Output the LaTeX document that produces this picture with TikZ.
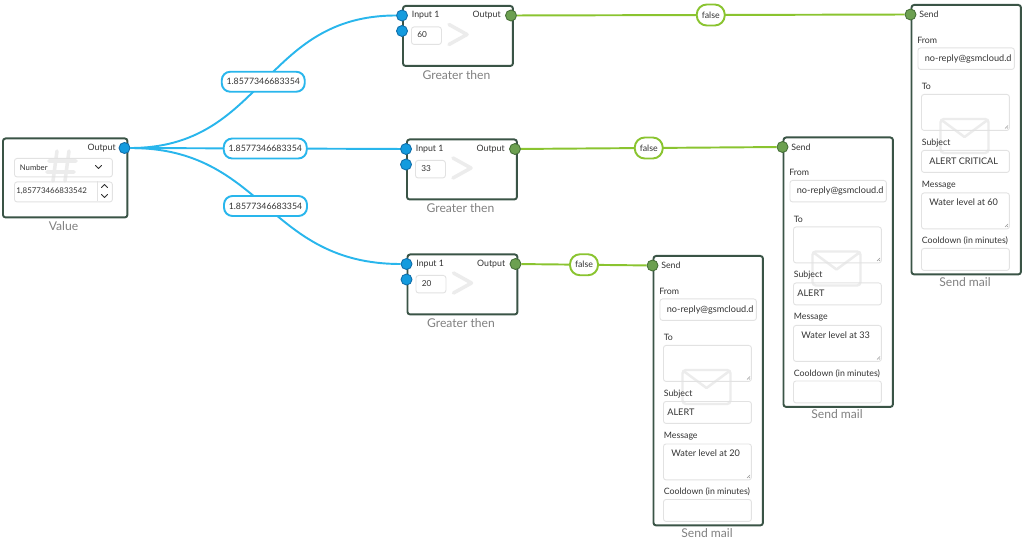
\documentclass[tikz,border=0pt]{standalone}
\usepackage{fontspec}
\setmainfont{Lato}
\setsansfont{Lato}

\begin{document}
\begin{tikzpicture}[x=0.02cm,y=-0.02cm,font=\sffamily]

\definecolor{panel_draw}{RGB}{58,84,70}
\definecolor{field_draw}{RGB}{226,226,226}
\definecolor{icon_draw}{RGB}{236,236,236}
\definecolor{caption_text}{RGB}{128,128,128}
\definecolor{label_text}{RGB}{51,51,51}
\definecolor{handle_draw}{RGB}{150,150,150}
\definecolor{value_edge_draw}{RGB}{41,182,236}
\definecolor{value_port_fill}{RGB}{20,155,222}
\definecolor{value_port_draw}{RGB}{16,110,170}
\definecolor{bool_edge_draw}{RGB}{138,196,48}
\definecolor{bool_port_fill}{RGB}{108,160,80}
\definecolor{bool_port_draw}{RGB}{70,112,56}

\tikzstyle{panel_style}=[draw=panel_draw,fill=white,line width=1.1pt,rounded corners=1.5pt,anchor=north west,inner sep=0pt]
\tikzstyle{field_style}=[draw=field_draw,line width=0.5pt,rounded corners=1.5pt,anchor=north west,inner sep=0pt]
\tikzstyle{text_style}=[text=label_text,font=\fontsize{5}{6}\selectfont,inner sep=0pt]
\tikzstyle{field_text_style}=[text=label_text,font=\fontsize{5.2}{6}\selectfont,inner sep=0pt,anchor=west]
\tikzstyle{caption_style}=[text=caption_text,font=\fontsize{6.9}{8}\selectfont,inner sep=0pt]
\tikzstyle{icon_style}=[draw=icon_draw,line width=2pt,line cap=round,line join=round]
\tikzstyle{mark_style}=[draw=label_text,line width=0.6pt,line cap=round,line join=round]
\tikzstyle{handle_style}=[draw=handle_draw,line width=0.3pt]
\tikzstyle{value_port_style}=[circle,draw=value_port_draw,fill=value_port_fill,line width=0.5pt,minimum size=0.22cm,inner sep=0pt]
\tikzstyle{bool_port_style}=[circle,draw=bool_port_draw,fill=bool_port_fill,line width=0.5pt,minimum size=0.22cm,inner sep=0pt]
\tikzstyle{value_edge_style}=[draw=value_edge_draw,line width=1.1pt]
\tikzstyle{bool_edge_style}=[draw=bool_edge_draw,line width=1.1pt]
\tikzstyle{value_label_style}=[draw=value_edge_draw,fill=white,line width=1.1pt,rounded corners=0.17cm,minimum width=1.66cm,minimum height=0.4cm,inner sep=0pt,text=label_text,font=\fontsize{5}{6}\selectfont]
\tikzstyle{bool_label_style}=[draw=bool_edge_draw,fill=white,line width=1.1pt,rounded corners=0.2cm,minimum width=0.56cm,minimum height=0.42cm,inner sep=0pt,text=label_text,font=\fontsize{5}{6}\selectfont]

\useasboundingbox (0,0) rectangle (1024,540);

\node(value) at (2,137.5) [panel_style,minimum width=2.49cm,minimum height=1.58cm] {};
\draw[icon_style] (57,151) -- (53,181) (69,151) -- (65,181) (49,161) -- (76,161) (47,172) -- (74,172);
\node(value_type) at (14,158) [field_style,minimum width=1.96cm,minimum height=0.37cm] {};
\node(value_type_text) at (19.5,167.3) [field_text_style,font=\fontsize{4.4}{5}\selectfont] {Number};
\draw[mark_style] (95.5,165.5) -- (98.5,168.5) -- (101.5,165.5);
\node(value_field) at (14,181.5) [field_style,minimum width=1.96cm,minimum height=0.4cm] {};
\draw[draw=field_draw,line width=0.5pt] (97,181.5) -- (97,201.5);
\node(value_field_text) at (16,191) [field_text_style,font=\fontsize{4.5}{5}\selectfont] {1,85773466833542};
\draw[mark_style] (101.5,187.5) -- (104.5,184.5) -- (107.5,187.5);
\draw[mark_style] (101.5,194.5) -- (104.5,197.5) -- (107.5,194.5);
\node(value_out_text) at (116,148) [text_style,anchor=east] {Output};
\node(val_out) at (124.5,148) [value_port_style] {};
\node(value_caption) at (63.5,226.5) [caption_style] {Value};

\node(gt1) at (402,5) [panel_style,minimum width=2.2cm,minimum height=1.2cm] {};
\draw[icon_style] (449,24.5) -- (467,34.5) -- (449,44.5);
\node(gt1_field) at (411,26.5) [field_style,minimum width=0.6cm,minimum height=0.35cm] {};
\node(gt1_field_text) at (417,35) [field_text_style,font=\fontsize{4.7}{6}\selectfont] {60};
\node(gt1_in_text) at (411.5,15.5) [text_style,anchor=west] {Input 1};
\node(gt1_out_text) at (501,15.5) [text_style,anchor=east] {Output};
\node(gt1_in1) at (402,15.5) [value_port_style] {};
\node(gt1_in2) at (402,31) [value_port_style] {};
\node(gt1_out) at (511,15.5) [bool_port_style] {};
\node(gt1_caption) at (456.5,75) [caption_style] {Greater then};

\node(gt2) at (406,138.5) [panel_style,minimum width=2.2cm,minimum height=1.2cm] {};
\draw[icon_style] (453,158) -- (471,168) -- (453,178);
\node(gt2_field) at (415,160) [field_style,minimum width=0.6cm,minimum height=0.35cm] {};
\node(gt2_field_text) at (421,168.5) [field_text_style,font=\fontsize{4.7}{6}\selectfont] {33};
\node(gt2_in_text) at (415.5,149) [text_style,anchor=west] {Input 1};
\node(gt2_out_text) at (505,149) [text_style,anchor=east] {Output};
\node(gt2_in1) at (406,149) [value_port_style] {};
\node(gt2_in2) at (406,164.5) [value_port_style] {};
\node(gt2_out) at (515,149) [bool_port_style] {};
\node(gt2_caption) at (460.5,208.5) [caption_style] {Greater then};

\node(gt3) at (406.5,253.5) [panel_style,minimum width=2.2cm,minimum height=1.2cm] {};
\draw[icon_style] (453.5,273) -- (471.5,283) -- (453.5,293);
\node(gt3_field) at (415.5,275) [field_style,minimum width=0.6cm,minimum height=0.35cm] {};
\node(gt3_field_text) at (421.5,283.5) [field_text_style,font=\fontsize{4.7}{6}\selectfont] {20};
\node(gt3_in_text) at (416,264) [text_style,anchor=west] {Input 1};
\node(gt3_out_text) at (505.5,264) [text_style,anchor=east] {Output};
\node(gt3_in1) at (406.5,264) [value_port_style] {};
\node(gt3_in2) at (406.5,279.5) [value_port_style] {};
\node(gt3_out) at (515.5,264) [bool_port_style] {};
\node(gt3_caption) at (461,323.5) [caption_style] {Greater then};

\node(sm1) at (910.5,4) [panel_style,minimum width=2.19cm,minimum height=5.39cm] {};
\draw[icon_style,line width=1.4pt,rounded corners=2pt] (940.5,119) rectangle (988.5,153);
\draw[icon_style,line width=1.4pt] (941.5,120) -- (964.5,137) -- (987.5,120);
\node(sm1_from_field) at (917.5,47.5) [field_style,minimum width=1.93cm,minimum height=0.43cm] {};
\node(sm1_to_field) at (921,94) [field_style,minimum width=1.76cm,minimum height=0.72cm] {};
\node(sm1_subject_field) at (921,150) [field_style,minimum width=1.76cm,minimum height=0.44cm] {};
\node(sm1_message_field) at (921,192.5) [field_style,minimum width=1.76cm,minimum height=0.72cm] {};
\node(sm1_cooldown_field) at (921,248) [field_style,minimum width=1.76cm,minimum height=0.44cm] {};
\draw[handle_style] (1005,128.5) -- (1008,125.5) (1007,128.5) -- (1008,127.5);
\draw[handle_style] (1005,227) -- (1008,224) (1007,227) -- (1008,226);
\node(sm1_send_text) at (919,14.5) [text_style,anchor=west] {Send};
\node(sm1_from) at (917,40) [text_style,anchor=west] {From};
\node(sm1_from_text) at (924.5,58.5) [field_text_style] {no-reply@gsmcloud.d};
\node(sm1_to) at (921.5,86.5) [text_style,anchor=west] {To};
\node(sm1_subject) at (921.5,143) [text_style,anchor=west] {Subject};
\node(sm1_subject_text) at (929,161) [field_text_style] {ALERT CRITICAL};
\node(sm1_message) at (921.5,185) [text_style,anchor=west] {Message};
\node(sm1_message_text) at (929,202.5) [field_text_style] {Water level at 60};
\node(sm1_cooldown) at (921.5,241) [text_style,anchor=west] {Cooldown (in minutes)};
\node(sm1_send) at (910.5,14.5) [bool_port_style] {};
\node(sm1_caption) at (965,282) [caption_style] {Send mail};

\node(sm2) at (782.5,136.5) [panel_style,minimum width=2.19cm,minimum height=5.39cm] {};
\draw[icon_style,line width=1.4pt,rounded corners=2pt] (812.5,251.5) rectangle (860.5,285.5);
\draw[icon_style,line width=1.4pt] (813.5,252.5) -- (836.5,269.5) -- (859.5,252.5);
\node(sm2_from_field) at (789.5,180) [field_style,minimum width=1.93cm,minimum height=0.43cm] {};
\node(sm2_to_field) at (793,226.5) [field_style,minimum width=1.76cm,minimum height=0.72cm] {};
\node(sm2_subject_field) at (793,282.5) [field_style,minimum width=1.76cm,minimum height=0.44cm] {};
\node(sm2_message_field) at (793,325) [field_style,minimum width=1.76cm,minimum height=0.72cm] {};
\node(sm2_cooldown_field) at (793,380.5) [field_style,minimum width=1.76cm,minimum height=0.44cm] {};
\draw[handle_style] (877,261) -- (880,258) (879,261) -- (880,260);
\draw[handle_style] (877,359.5) -- (880,356.5) (879,359.5) -- (880,358.5);
\node(sm2_send_text) at (791,147) [text_style,anchor=west] {Send};
\node(sm2_from) at (789,172.5) [text_style,anchor=west] {From};
\node(sm2_from_text) at (796.5,191) [field_text_style] {no-reply@gsmcloud.d};
\node(sm2_to) at (793.5,219) [text_style,anchor=west] {To};
\node(sm2_subject) at (793.5,275.5) [text_style,anchor=west] {Subject};
\node(sm2_subject_text) at (797,293.5) [field_text_style] {ALERT};
\node(sm2_message) at (793.5,317.5) [text_style,anchor=west] {Message};
\node(sm2_message_text) at (801,335) [field_text_style] {Water level at 33};
\node(sm2_cooldown) at (793.5,373.5) [text_style,anchor=west] {Cooldown (in minutes)};
\node(sm2_send) at (782.5,147) [bool_port_style] {};
\node(sm2_caption) at (837,414.5) [caption_style] {Send mail};

\node(sm3) at (652.5,255) [panel_style,minimum width=2.19cm,minimum height=5.39cm] {};
\draw[icon_style,line width=1.4pt,rounded corners=2pt] (682.5,370) rectangle (730.5,404);
\draw[icon_style,line width=1.4pt] (683.5,371) -- (706.5,388) -- (729.5,371);
\node(sm3_from_field) at (659.5,298.5) [field_style,minimum width=1.93cm,minimum height=0.43cm] {};
\node(sm3_to_field) at (663,345) [field_style,minimum width=1.76cm,minimum height=0.72cm] {};
\node(sm3_subject_field) at (663,401) [field_style,minimum width=1.76cm,minimum height=0.44cm] {};
\node(sm3_message_field) at (663,443.5) [field_style,minimum width=1.76cm,minimum height=0.72cm] {};
\node(sm3_cooldown_field) at (663,499) [field_style,minimum width=1.76cm,minimum height=0.44cm] {};
\draw[handle_style] (747,379.5) -- (750,376.5) (749,379.5) -- (750,378.5);
\draw[handle_style] (747,478) -- (750,475) (749,478) -- (750,477);
\node(sm3_send_text) at (661,265.5) [text_style,anchor=west] {Send};
\node(sm3_from) at (659,291) [text_style,anchor=west] {From};
\node(sm3_from_text) at (666.5,309.5) [field_text_style] {no-reply@gsmcloud.d};
\node(sm3_to) at (663.5,337.5) [text_style,anchor=west] {To};
\node(sm3_subject) at (663.5,394) [text_style,anchor=west] {Subject};
\node(sm3_subject_text) at (667,412) [field_text_style] {ALERT};
\node(sm3_message) at (663.5,436) [text_style,anchor=west] {Message};
\node(sm3_message_text) at (671,453.5) [field_text_style] {Water level at 20};
\node(sm3_cooldown) at (663.5,492) [text_style,anchor=west] {Cooldown (in minutes)};
\node(sm3_send) at (652.5,265.5) [bool_port_style] {};
\node(sm3_caption) at (707,533) [caption_style] {Send mail};

\draw[value_edge_style](val_out) edge[out=0,in=180,looseness=1.15] node[value_label_style] {1.8577346683354} (gt1_in1);
\draw[value_edge_style](val_out) edge node[value_label_style] {1.8577346683354} (gt2_in1);
\draw[value_edge_style](val_out) edge[out=0,in=180,looseness=1.17] node[value_label_style] {1.8577346683354} (gt3_in1);
\draw[bool_edge_style](gt1_out) edge node[bool_label_style] {false} (sm1_send);
\draw[bool_edge_style](gt2_out) edge node[bool_label_style] {false} (sm2_send);
\draw[bool_edge_style](gt3_out) edge node[bool_label_style] {false} (sm3_send);

\end{tikzpicture}
\end{document}
